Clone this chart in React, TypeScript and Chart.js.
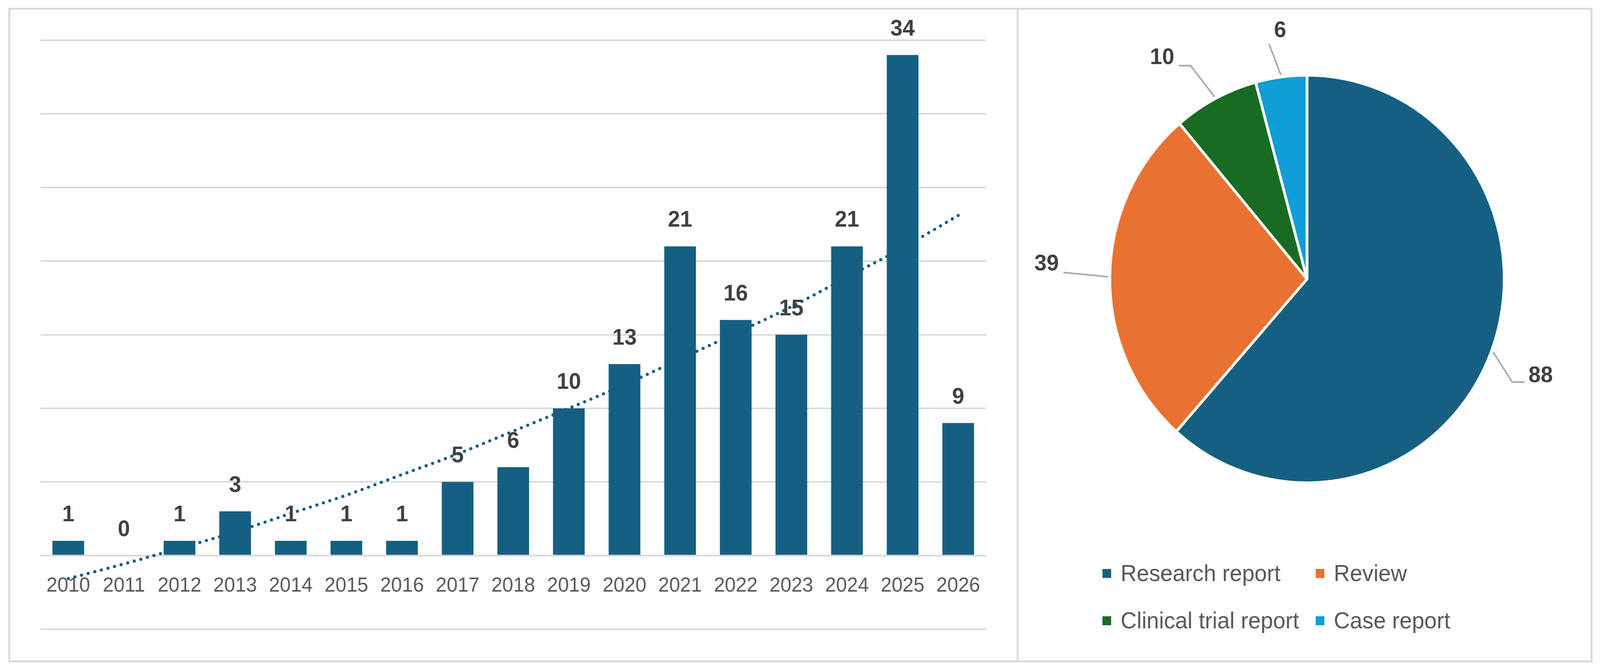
import React, { useEffect, useRef } from 'react';
import { Chart, registerables, Plugin } from 'chart.js';

Chart.register(...registerables);

// publications per year
const years = ['2010', '2011', '2012', '2013', '2014', '2015', '2016', '2017', '2018', '2019', '2020', '2021', '2022', '2023', '2024', '2025', '2026'];
const publicationCounts = [1, 0, 1, 3, 1, 1, 1, 5, 6, 10, 13, 21, 16, 15, 21, 34, 9];
// dotted trend line
const trendValues = [-1.57, -0.57, 0.5, 1.6, 2.86, 4.1, 5.5, 6.9, 8.45, 10.0, 11.6, 13.35, 15.1, 16.9, 18.9, 20.9, 23.1];

// article types
const articleTypes = ['Research report', 'Review', 'Clinical trial report', 'Case report'];
const articleCounts = [88, 39, 10, 6];
const typeColors = ['#156082', '#E97132', '#196B24', '#0F9ED5'];

const FONT = '"Liberation Sans", Arial, sans-serif';
const BAR_COLOR = '#156082';
const GRID_COLOR = '#D9D9D9';
const PAGE_W = 4232;
const PAGE_H = 1712;

// where each pie label sits relative to its slice edge (Excel leader lines)
const pieLabelPlacement = [
  { elbow: [58, 80], tail: 33, align: 'left', dx: 10, dy: -16 },
  { elbow: [-126, -11], tail: 0, align: 'right', dx: -12, dy: -21 },
  { elbow: [-67, -87], tail: -31, align: 'right', dx: -12, dy: -20 },
  { elbow: [-32, -87], tail: 0, align: 'center', dx: 29, dy: -34 },
];

const yearLabels: Plugin = {
  id: 'yearLabels',
  beforeDatasetsDraw(chart) {
    const { ctx, scales } = chart;
    const x = scales.x;
    const y = scales.y;
    ctx.save();
    ctx.font = `52px ${FONT}`;
    ctx.fillStyle = '#595959';
    ctx.textAlign = 'center';
    ctx.textBaseline = 'alphabetic';
    years.forEach((yr, i) => {
      ctx.fillText(yr, x.getPixelForValue(i), y.getPixelForValue(-2.45));
    });
    ctx.restore();
  },
};

const barValueLabels: Plugin = {
  id: 'barValueLabels',
  afterDatasetsDraw(chart) {
    const meta = chart.getDatasetMeta(0);
    const ctx = chart.ctx;
    ctx.save();
    ctx.font = `bold 58px ${FONT}`;
    ctx.fillStyle = '#404040';
    ctx.textAlign = 'center';
    ctx.textBaseline = 'alphabetic';
    meta.data.forEach((bar: any, i: number) => {
      ctx.fillText(String(publicationCounts[i]), bar.x, bar.y - 50);
    });
    ctx.restore();
  },
};

const pieLabels: Plugin = {
  id: 'pieLabels',
  afterDatasetsDraw(chart) {
    const meta = chart.getDatasetMeta(0);
    const ctx = chart.ctx;
    ctx.save();
    meta.data.forEach((arc: any, i: number) => {
      const p = pieLabelPlacement[i];
      const mid = (arc.startAngle + arc.endAngle) / 2;
      const r = arc.outerRadius - 3;
      const ex = arc.x + r * Math.cos(mid);
      const ey = arc.y + r * Math.sin(mid);
      const sx = ex + 8 * Math.cos(mid);
      const sy = ey + 8 * Math.sin(mid);
      const p1x = ex + p.elbow[0];
      const p1y = ey + p.elbow[1];
      const p2x = p1x + p.tail;
      ctx.strokeStyle = '#A6A6A6';
      ctx.lineWidth = 4;
      ctx.beginPath();
      ctx.moveTo(sx, sy);
      ctx.lineTo(p1x, p1y);
      if (p.tail !== 0) ctx.lineTo(p2x, p1y);
      ctx.stroke();
      ctx.font = `bold 58px ${FONT}`;
      ctx.fillStyle = '#404040';
      ctx.textAlign = p.align as CanvasTextAlign;
      ctx.textBaseline = 'middle';
      ctx.fillText(String(articleCounts[i]), p2x + p.dx, p1y + p.dy);
    });
    ctx.restore();
  },
};

const App: React.FC = () => {
  const barRef = useRef<HTMLCanvasElement>(null);
  const pieRef = useRef<HTMLCanvasElement>(null);

  // the browser window may be narrower than the picture, so fit the whole layout into it
  const sx = window.innerWidth / PAGE_W;
  const sy = window.innerHeight / PAGE_H;

  useEffect(() => {
    if (!barRef.current || !pieRef.current) return;

    const barChart = new Chart(barRef.current, {
      type: 'bar',
      data: {
        labels: years,
        datasets: [
          {
            type: 'bar',
            label: 'Publications',
            data: publicationCounts,
            backgroundColor: BAR_COLOR,
            barPercentage: 0.57,
            categoryPercentage: 1,
            order: 0,
          },
          {
            type: 'line',
            label: 'Trend',
            data: trendValues,
            borderColor: BAR_COLOR,
            borderWidth: 8,
            borderDash: [0.5, 17.5],
            borderCapStyle: 'round',
            pointRadius: 0,
            fill: false,
            cubicInterpolationMode: 'monotone',
            order: 1,
          } as any,
        ],
      },
      options: {
        animation: false,
        responsive: true,
        maintainAspectRatio: false,
        layout: { padding: { left: 107, top: 103, right: 81, bottom: 102 } },
        plugins: {
          legend: { display: false },
          tooltip: { enabled: false },
        },
        scales: {
          x: { display: false },
          y: {
            min: -5,
            max: 35,
            ticks: { display: false, stepSize: 5 },
            border: { display: false },
            grid: { color: GRID_COLOR, lineWidth: 4, drawTicks: false },
          },
        },
      },
      plugins: [yearLabels, barValueLabels],
    });

    const pieChart = new Chart(pieRef.current, {
      type: 'pie',
      data: {
        labels: articleTypes,
        datasets: [
          {
            data: articleCounts,
            backgroundColor: typeColors,
            borderColor: '#FFFFFF',
            borderWidth: 7,
          },
        ],
      },
      options: {
        animation: false,
        responsive: true,
        maintainAspectRatio: false,
        layout: { padding: { left: 241, top: 189, right: 250, bottom: 473 } },
        plugins: {
          legend: { display: false },
          tooltip: { enabled: false },
        },
      },
      plugins: [pieLabels],
    });

    return () => {
      barChart.destroy();
      pieChart.destroy();
    };
  }, []);

  return (
    <div
      style={{
        position: 'fixed',
        left: 0,
        top: 0,
        width: PAGE_W,
        height: PAGE_H,
        background: '#FFFFFF',
        overflow: 'hidden',
        transform: `scale(${sx}, ${sy})`,
        transformOrigin: '0 0',
      }}
    >
      <div style={{ position: 'absolute', left: 0, top: 0, width: 2689, height: 1712 }}>
        <canvas ref={barRef} />
      </div>
      <div style={{ position: 'absolute', left: 2691, top: 0, width: 1541, height: 1712 }}>
        <canvas ref={pieRef} />
      </div>
      <div
        style={{
          position: 'absolute',
          left: 22,
          top: 20,
          width: 4190,
          height: 1675,
          boxSizing: 'border-box',
          border: `5px solid ${GRID_COLOR}`,
          pointerEvents: 'none',
        }}
      />
      <div style={{ position: 'absolute', left: 2689, top: 20, width: 5, height: 1675, background: GRID_COLOR }} />
      {articleTypes.map((name, i) => {
        const col = i % 2;
        const row = Math.floor(i / 2);
        const left = 2916 + col * 564;
        const centerY = 1467 + row * 121;
        return (
          <div
            key={name}
            style={{
              position: 'absolute',
              left,
              top: centerY - 40,
              height: 80,
              display: 'flex',
              alignItems: 'center',
              whiteSpace: 'nowrap',
              fontFamily: FONT,
              fontSize: 59,
              color: '#595959',
            }}
          >
            <span style={{ display: 'inline-block', width: 23, height: 23, background: typeColors[i], marginRight: 25 }} />
            <span>{name}</span>
          </div>
        );
      })}
    </div>
  );
};

export default App;
